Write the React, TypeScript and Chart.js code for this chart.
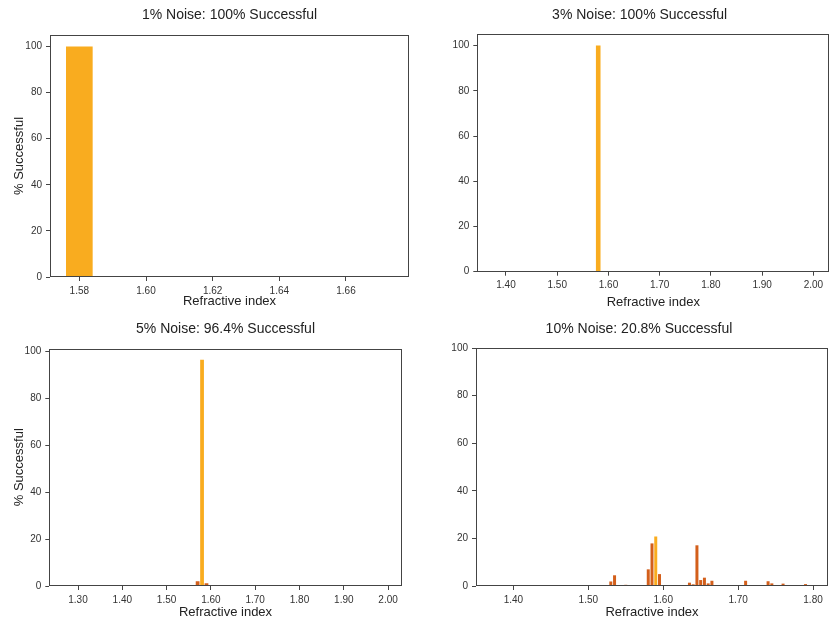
import React, { useEffect, useRef } from 'react';
import { Chart, registerables } from 'chart.js';

Chart.register(...registerables);

const FONT = "'Liberation Sans', Arial, sans-serif";
const ORANGE = '#f9ac1f';
const DARK = '#d35f1b';

// ---- shared tick labels ----
const yTicks = [0, 20, 40, 60, 80, 100];

// ---- Panel 1: 1% noise ----
const p1Title = '1% Noise: 100% Successful';
const p1CorrectX = [1.58];
const p1CorrectY = [100];
const p1WrongX: number[] = [];
const p1WrongY: number[] = [];
const p1XTicks = [1.58, 1.6, 1.62, 1.64, 1.66];

// ---- Panel 2: 3% noise ----
const p2Title = '3% Noise: 100% Successful';
const p2CorrectX = [1.58];
const p2CorrectY = [100];
const p2WrongX: number[] = [];
const p2WrongY: number[] = [];
const p2XTicks = [1.4, 1.5, 1.6, 1.7, 1.8, 1.9, 2.0];

// ---- Panel 3: 5% noise ----
const p3Title = '5% Noise: 96.4% Successful';
const p3CorrectX = [1.58];
const p3CorrectY = [96.4];
const p3WrongX = [1.57, 1.59, 1.69];
const p3WrongY = [2.0, 1.2, 0.4];
const p3XTicks = [1.3, 1.4, 1.5, 1.6, 1.7, 1.8, 1.9, 2.0];

// ---- Panel 4: 10% noise ----
const p4Title = '10% Noise: 20.8% Successful';
const p4CorrectX = [1.59];
const p4CorrectY = [20.8];
const p4WrongX = [
  1.525, 1.53, 1.535, 1.55, 1.58, 1.585, 1.595, 1.6, 1.635, 1.64, 1.645,
  1.65, 1.655, 1.66, 1.665, 1.69, 1.7, 1.71, 1.74, 1.745, 1.76, 1.79,
];
const p4WrongY = [
  0.3, 1.9, 4.5, 0.5, 7.0, 17.9, 5.0, 0.4, 1.4, 0.7, 17.1,
  2.5, 3.5, 1.1, 2.2, 0.3, 0.3, 2.2, 2.0, 1.1, 1.0, 0.8,
];
const p4XTicks = [1.4, 1.5, 1.6, 1.7, 1.8];

type Panel = {
  title: string;
  correctX: number[];
  correctY: number[];
  wrongX: number[];
  wrongY: number[];
  xTicks: number[];
  xMin: number;
  xMax: number;
  yMax: number;
  binWidth: number;
  showYTitle: boolean;
  titleFull: boolean;
  // layout (pixels)
  left: number;
  top: number;
  width: number;
  height: number;
  padRight: number;
  titlePadTop: number;
  titlePadBottom: number;
  yAxisW: number;
  xAxisH: number;
  xTitlePadBottom: number;
};

const panels: Panel[] = [
  {
    title: p1Title, correctX: p1CorrectX, correctY: p1CorrectY, wrongX: p1WrongX, wrongY: p1WrongY,
    xTicks: p1XTicks, xMin: 1.5712, xMax: 1.6789, yMax: 105, binWidth: 0.008, showYTitle: true, titleFull: false,
    left: 0, top: 0, width: 415, height: 310, padRight: 6,
    titlePadTop: 6.6, titlePadBottom: 11.6, yAxisW: 50, xAxisH: 33, xTitlePadBottom: 1.2,
  },
  {
    title: p2Title, correctX: p2CorrectX, correctY: p2CorrectY, wrongX: p2WrongX, wrongY: p2WrongY,
    xTicks: p2XTicks, xMin: 1.344, xMax: 2.031, yMax: 105, binWidth: 0.009, showYTitle: false, titleFull: true,
    left: 450, top: 0, width: 380, height: 310, padRight: 0.7,
    titlePadTop: 6.6, titlePadBottom: 10.9, yAxisW: 27.3, xAxisH: 38.3, xTitlePadBottom: 0.2,
  },
  {
    title: p3Title, correctX: p3CorrectX, correctY: p3CorrectY, wrongX: p3WrongX, wrongY: p3WrongY,
    xTicks: p3XTicks, xMin: 1.2352, xMax: 2.0307, yMax: 101.2, binWidth: 0.0085, showYTitle: true, titleFull: false,
    left: 0, top: 310, width: 415, height: 311, padRight: 13.3,
    titlePadTop: 11.1, titlePadBottom: 10.6, yAxisW: 49.3, xAxisH: 35, xTitlePadBottom: 1.2,
  },
  {
    title: p4Title, correctX: p4CorrectX, correctY: p4CorrectY, wrongX: p4WrongX, wrongY: p4WrongY,
    xTicks: p4XTicks, xMin: 1.35, xMax: 1.82, yMax: 100, binWidth: 0.004, showYTitle: false, titleFull: true,
    left: 450, top: 310, width: 380, height: 311, padRight: 2,
    titlePadTop: 11.1, titlePadBottom: 10.1, yAxisW: 26, xAxisH: 35, xTitlePadBottom: 1.2,
  },
];

const framePlugin = {
  id: 'frame',
  afterDatasetsDraw(chart: any) {
    const { ctx, chartArea } = chart;
    const l = Math.round(chartArea.left) + 0.5;
    const t = Math.round(chartArea.top) + 0.5;
    const r = Math.round(chartArea.right) - 0.5;
    const b = Math.round(chartArea.bottom) - 0.5;
    ctx.save();
    ctx.strokeStyle = '#444';
    ctx.lineWidth = 1;
    ctx.strokeRect(l, t, r - l, b - t);
    ctx.restore();
  },
};

function HistPanel({ p }: { p: Panel }) {
  const ref = useRef<HTMLCanvasElement | null>(null);
  useEffect(() => {
    if (!ref.current) return;
    const xs = [...p.correctX, ...p.wrongX].sort((a, b) => a - b);
    let gap = p.xTicks[1] - p.xTicks[0];
    for (let i = 1; i < xs.length; i++) {
      const d = xs[i] - xs[i - 1];
      if (d > 1e-9) gap = Math.min(gap, d);
    }
    const barPct = p.binWidth / gap;
    const tickGrid = {
      display: true,
      drawOnChartArea: false,
      drawTicks: true,
      tickLength: 4,
      color: '#444',
      lineWidth: 1,
      offset: false,
    };
    const chart = new Chart(ref.current, {
      type: 'bar',
      data: {
        datasets: [
          {
            label: 'wrong',
            data: p.wrongX.map((x, i) => ({ x, y: p.wrongY[i] })),
            backgroundColor: DARK,
            borderWidth: 0,
            grouped: false,
            categoryPercentage: 1,
            barPercentage: barPct,
          },
          {
            label: 'correct',
            data: p.correctX.map((x, i) => ({ x, y: p.correctY[i] })),
            backgroundColor: ORANGE,
            borderWidth: 0,
            grouped: false,
            categoryPercentage: 1,
            barPercentage: barPct,
          },
        ] as any,
      },
      options: {
        responsive: false,
        animation: false,
        events: [],
        layout: { padding: { left: 0, top: 0, right: p.padRight, bottom: 0 } },
        plugins: {
          legend: { display: false },
          tooltip: { enabled: false },
          title: {
            display: true,
            text: p.title,
            color: '#222',
            fullSize: p.titleFull,
            font: { family: FONT, size: 14, weight: 'normal', lineHeight: 1.2 },
            padding: { top: p.titlePadTop, bottom: p.titlePadBottom },
          },
        },
        scales: {
          x: {
            type: 'linear',
            min: p.xMin,
            max: p.xMax,
            offset: false,
            afterBuildTicks: (s: any) => {
              s.ticks = p.xTicks.map((v) => ({ value: v }));
            },
            afterFit: (s: any) => {
              s.height = p.xAxisH;
            },
            ticks: {
              autoSkip: false,
              maxRotation: 0,
              minRotation: 0,
              padding: 4,
              color: '#333',
              font: { family: FONT, size: 10 },
              callback: (v: any) => Number(v).toFixed(2),
            },
            grid: tickGrid,
            border: { display: false },
            title: {
              display: true,
              text: 'Refractive index',
              color: '#222',
              font: { family: FONT, size: 13, lineHeight: 1.2 },
              padding: { top: 0, bottom: p.xTitlePadBottom },
            },
          },
          y: {
            min: 0,
            max: p.yMax,
            afterBuildTicks: (s: any) => {
              s.ticks = yTicks.map((v) => ({ value: v }));
            },
            afterFit: (s: any) => {
              s.width = p.yAxisW;
            },
            ticks: {
              autoSkip: false,
              padding: 4,
              color: '#333',
              font: { family: FONT, size: 10 },
              callback: (v: any) => String(v),
            },
            grid: tickGrid,
            border: { display: false },
            title: {
              display: p.showYTitle,
              text: '% Successful',
              color: '#222',
              font: { family: FONT, size: 13, lineHeight: 1.2 },
              padding: { top: 11.5, bottom: 0 },
            },
          },
        },
      } as any,
      plugins: [framePlugin],
    });
    return () => chart.destroy();
  }, [p]);
  return (
    <canvas
      ref={ref}
      width={p.width}
      height={p.height}
      style={{
        position: 'absolute',
        left: p.left,
        top: p.top,
        width: p.width,
        height: p.height,
        display: 'block',
      }}
    />
  );
}

export default function App() {
  return (
    <div
      style={{
        position: 'absolute',
        left: 0,
        top: 0,
        width: 830,
        height: 621,
        background: '#fff',
        overflow: 'hidden',
      }}
    >
      {panels.map((p, i) => (
        <HistPanel key={i} p={p} />
      ))}
    </div>
  );
}
